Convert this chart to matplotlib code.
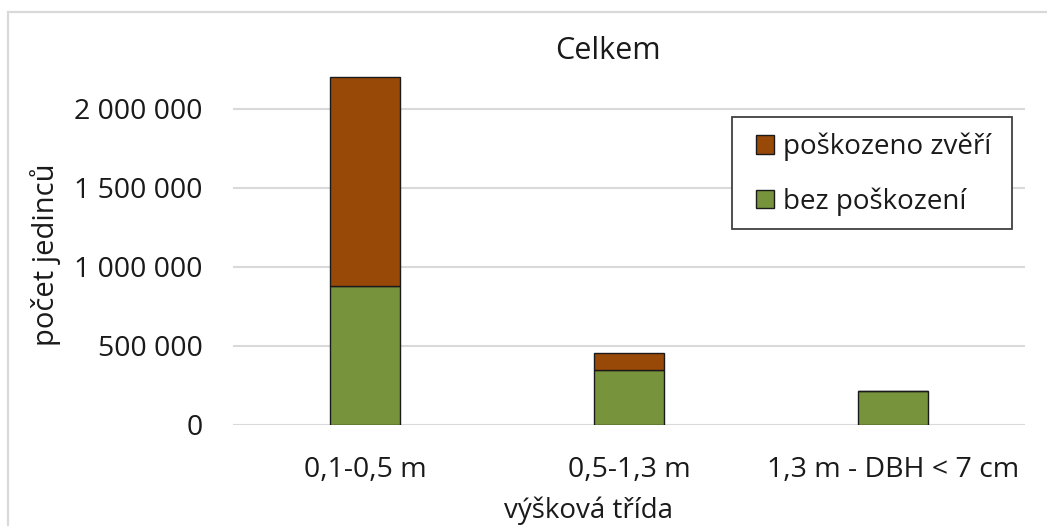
import matplotlib
matplotlib.use("Agg")
import matplotlib.pyplot as plt
from matplotlib.patches import Rectangle

# Height classes and counts of individuals
categories = ["0,1-0,5 m", "0,5-1,3 m", "1,3 m - DBH < 7 cm"]
bez_poskozeni = [876000, 347000, 210000]
poskozeno_zveri = [1329000, 106000, 0]
ytick_values = [0, 500000, 1000000, 1500000, 2000000]
ytick_labels = ["0", "500 000", "1 000 000", "1 500 000", "2 000 000"]

plt.rcParams["font.family"] = ["Open Sans", "DejaVu Sans"]

W, H = 1047, 526
fig = plt.figure(figsize=(W / 100, H / 100), dpi=100)


def px(x0, y0):
    """Pixel position (from top-left) to figure fraction."""
    return x0 / W, 1 - y0 / H


# light chart-area border
fig.patches.append(Rectangle((8 / W, -0.1), 1.2, (H - 12) / H + 0.1,
                             transform=fig.transFigure, fill=False,
                             edgecolor="#d9d9d9", linewidth=1.6))

left, right = 233 / W, 1025 / W
bottom, top = (H - 424.5) / H, (H - 60) / H
ax = fig.add_axes([left, bottom, right - left, top - bottom])

green = "#77933c"
brown = "#984807"
txt = "#1a1a1a"
x = range(len(categories))
width = 0.265

ax.bar(x, bez_poskozeni, width, color=green, edgecolor=txt,
       linewidth=1.0, label="bez poškození", zorder=3)
ax.bar(x, poskozeno_zveri, width, bottom=bez_poskozeni, color=brown,
       edgecolor=txt, linewidth=1.0, label="poškozeno zvěří", zorder=3)

ax.set_xlim(-0.5, len(categories) - 0.5)
ax.set_ylim(0, 2310000)
ax.set_yticks(ytick_values)
ax.set_yticklabels(ytick_labels)
ax.set_xticks(list(x))
ax.set_xticklabels(categories)
ax.tick_params(axis="y", length=0, pad=22, labelsize=20.5, colors=txt)
ax.tick_params(axis="x", length=0, pad=22.5, labelsize=20.5, colors=txt)
ax.yaxis.grid(True, color="#d9d9d9", linewidth=1.5, zorder=0)
ax.set_axisbelow(True)
for s in ax.spines.values():
    s.set_visible(False)

fig.text(*px(608, 51), "Celkem", ha="center", va="center",
         fontsize=22, color=txt)
fig.text(*px(588, 511), "výšková třída", ha="center", va="center",
         fontsize=20, color=txt)
fig.text(*px(46, 255), "počet jedinců", ha="center", va="center",
         rotation=90, fontsize=21, color=txt)

# legend frame drawn separately for exact padding
bx0, by0 = px(731.7, 229)
bx1, by1 = px(1012, 116.7)
fig.patches.append(Rectangle((bx0, by0), bx1 - bx0, by1 - by0,
                             transform=fig.transFigure, facecolor="white",
                             edgecolor="#404040", linewidth=1.3, zorder=4))

handles, labels = ax.get_legend_handles_labels()
leg = fig.legend(handles[::-1], labels[::-1], loc="center left",
                 bbox_to_anchor=px(755.7, 174.2), fontsize=20,
                 frameon=False, handlelength=0.65, handleheight=0.65,
                 handletextpad=0.35, labelspacing=0.95, borderpad=0,
                 borderaxespad=0)
leg.set_zorder(5)
for t in leg.get_texts():
    t.set_color(txt)

fig.savefig("out.png", dpi=100)
